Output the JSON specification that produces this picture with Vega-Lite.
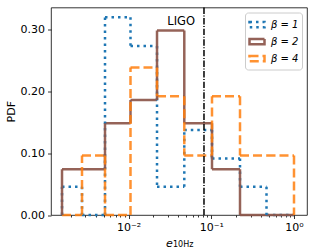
{
  "$schema": "https://vega.github.io/schema/vega-lite/v6.json",
  "width": 256,
  "height": 207.5,
  "autosize": "none",
  "padding": {"left": 51, "top": 7.5, "right": 8, "bottom": 37},
  "config": {
    "font": "DejaVu Sans",
    "view": {"stroke": "black", "strokeWidth": 0.8},
    "axis": {"grid": false, "domain": false, "tickColor": "black", "labelColor": "black", "titleColor": "black", "labelFontSize": 11, "titleFontSize": 11, "titleFontWeight": "normal", "tickWidth": 0.8}
  },
  "title": {"text": "10Hz", "orient": "bottom", "anchor": "start", "frame": "group", "fontSize": 8, "fontWeight": "normal", "color": "black", "dx": 122, "dy": -7, "offset": 0},
  "datasets": {
    "hist": [
      {"beta": 1, "lo": 0.001572, "hi": 0.002742, "pdf": 0.0456},
      {"beta": 1, "lo": 0.002742, "hi": 0.0052, "pdf": 0},
      {"beta": 1, "lo": 0.0052, "hi": 0.01057, "pdf": 0.319},
      {"beta": 1, "lo": 0.01057, "hi": 0.02211, "pdf": 0.2725},
      {"beta": 1, "lo": 0.02211, "hi": 0.04722, "pdf": 0.0456},
      {"beta": 1, "lo": 0.04722, "hi": 0.1021, "pdf": 0.137},
      {"beta": 1, "lo": 0.1021, "hi": 0.2226, "pdf": 0.0913},
      {"beta": 1, "lo": 0.2226, "hi": 0.4653, "pdf": 0.0456},
      {"beta": 1, "lo": 0.4653, "hi": 1.0, "pdf": 0},
      {"beta": 2, "lo": 0.001572, "hi": 0.002742, "pdf": 0.0738},
      {"beta": 2, "lo": 0.002742, "hi": 0.0052, "pdf": 0.0738},
      {"beta": 2, "lo": 0.0052, "hi": 0.01057, "pdf": 0.148},
      {"beta": 2, "lo": 0.01057, "hi": 0.02211, "pdf": 0.1855},
      {"beta": 2, "lo": 0.02211, "hi": 0.04722, "pdf": 0.2975},
      {"beta": 2, "lo": 0.04722, "hi": 0.1021, "pdf": 0.148},
      {"beta": 2, "lo": 0.1021, "hi": 0.2226, "pdf": 0.0738},
      {"beta": 2, "lo": 0.2226, "hi": 0.4653, "pdf": 0},
      {"beta": 2, "lo": 0.4653, "hi": 1.0, "pdf": 0},
      {"beta": 4, "lo": 0.001572, "hi": 0.002742, "pdf": 0},
      {"beta": 4, "lo": 0.002742, "hi": 0.0052, "pdf": 0.0958},
      {"beta": 4, "lo": 0.0052, "hi": 0.01057, "pdf": 0},
      {"beta": 4, "lo": 0.01057, "hi": 0.02211, "pdf": 0.238},
      {"beta": 4, "lo": 0.02211, "hi": 0.04722, "pdf": 0.1915},
      {"beta": 4, "lo": 0.04722, "hi": 0.1021, "pdf": 0.0958},
      {"beta": 4, "lo": 0.1021, "hi": 0.2226, "pdf": 0.1915},
      {"beta": 4, "lo": 0.2226, "hi": 0.4653, "pdf": 0.0958},
      {"beta": 4, "lo": 0.4653, "hi": 1.0, "pdf": 0.0958}
    ],
    "ligo": [{"e": 0.0817, "label": "LIGO"}]
  },
  "layer": [
    {
      "data": {"name": "hist"},
      "mark": {"type": "rule", "strokeWidth": 2.5, "strokeCap": "butt"},
      "encoding": {
        "x": {"field": "lo", "type": "quantitative", "scale": {"type": "log", "domain": [0.001157, 1.436], "nice": false},
          "axis": {"title": "e", "titleFontStyle": "italic", "titleX": 118, "titleY": 31, "titleAlign": "center", "titleBaseline": "alphabetic",
            "values": [0.002, 0.003, 0.004, 0.005, 0.006, 0.007, 0.008, 0.009, 0.01, 0.02, 0.03, 0.04, 0.05, 0.06, 0.07, 0.08, 0.09, 0.1, 0.2, 0.3, 0.4, 0.5, 0.6, 0.7, 0.8, 0.9, 1],
            "labelExpr": "datum.value == 0.01 ? '10⁻²' : datum.value == 0.1 ? '10⁻¹' : datum.value == 1 ? '10⁰' : ''",
            "tickSize": {"condition": {"test": "datum.value == 0.01 || datum.value == 0.1 || datum.value == 1", "value": 3.5}, "value": 2},
            "labelPadding": 3, "labelFlush": false, "labelOverlap": false}},
        "x2": {"field": "hi"},
        "y": {"field": "pdf", "type": "quantitative", "scale": {"domain": [0, 0.3347], "nice": false},
          "axis": {"title": "PDF", "values": [0, 0.05, 0.1, 0.15, 0.2, 0.25, 0.3], "format": ".2f", "tickSize": 3.5, "labelPadding": 3, "titlePadding": 4}},
        "color": {"field": "beta", "type": "nominal", "scale": {"domain": [1, 2, 4], "range": ["#1f77b4", "#8c564b", "#ff7f0e"]},
          "legend": {"title": null, "orient": "top-right", "offset": 5, "labelExpr": "'β = ' + datum.label", "labelFontStyle": "italic", "labelFontSize": 10,
            "symbolType": "M-1,-0.35H1V0.35H-1Z", "symbolSize": 225, "symbolStrokeWidth": 2.5, "symbolFillColor": "transparent",
            "fillColor": "white", "strokeColor": "#cccccc", "cornerRadius": 3, "padding": 3, "rowPadding": 0, "labelOffset": 5}},
        "strokeDash": {"field": "beta", "type": "nominal", "scale": {"domain": [1, 2, 4], "range": [[2.5, 4], [1, 0], [9, 4]]}},
        "opacity": {"field": "beta", "type": "nominal", "scale": {"domain": [1, 2, 4], "range": [1, 0.85, 1]}}
      }
    },
    {
      "data": {"name": "hist"},
      "transform": [
        {"window": [{"op": "lag", "field": "pdf", "as": "prev"}], "groupby": ["beta"], "sort": [{"field": "lo"}]},
        {"calculate": "isValid(datum.prev) ? datum.prev : 0", "as": "prev0"}
      ],
      "mark": {"type": "rule", "strokeWidth": 2.5, "strokeCap": "butt"},
      "encoding": {
        "x": {"field": "lo", "type": "quantitative"},
        "y": {"field": "prev0", "type": "quantitative"},
        "y2": {"field": "pdf"},
        "color": {"field": "beta", "type": "nominal"},
        "strokeDash": {"field": "beta", "type": "nominal"},
        "opacity": {"field": "beta", "type": "nominal"}
      }
    },
    {
      "data": {"name": "hist"},
      "transform": [
        {"window": [{"op": "lead", "field": "pdf", "as": "next"}], "groupby": ["beta"], "sort": [{"field": "lo"}]},
        {"filter": "!isValid(datum.next)"}
      ],
      "mark": {"type": "rule", "strokeWidth": 2.5, "strokeCap": "butt"},
      "encoding": {
        "x": {"field": "hi", "type": "quantitative"},
        "y": {"field": "pdf", "type": "quantitative"},
        "y2": {"datum": 0},
        "color": {"field": "beta", "type": "nominal"},
        "strokeDash": {"field": "beta", "type": "nominal"},
        "opacity": {"field": "beta", "type": "nominal"}
      }
    },
    {
      "data": {"name": "ligo"},
      "mark": {"type": "rule", "color": "black", "strokeWidth": 1.5, "strokeDash": [6.4, 1.6, 1, 1.6]},
      "encoding": {"x": {"field": "e", "type": "quantitative"}}
    },
    {
      "data": {"name": "ligo"},
      "mark": {"type": "text", "align": "right", "baseline": "alphabetic", "dx": -9, "fontSize": 11.5, "color": "black"},
      "encoding": {"x": {"field": "e", "type": "quantitative"}, "y": {"datum": 0.306}, "text": {"field": "label"}}
    }
  ]
}
